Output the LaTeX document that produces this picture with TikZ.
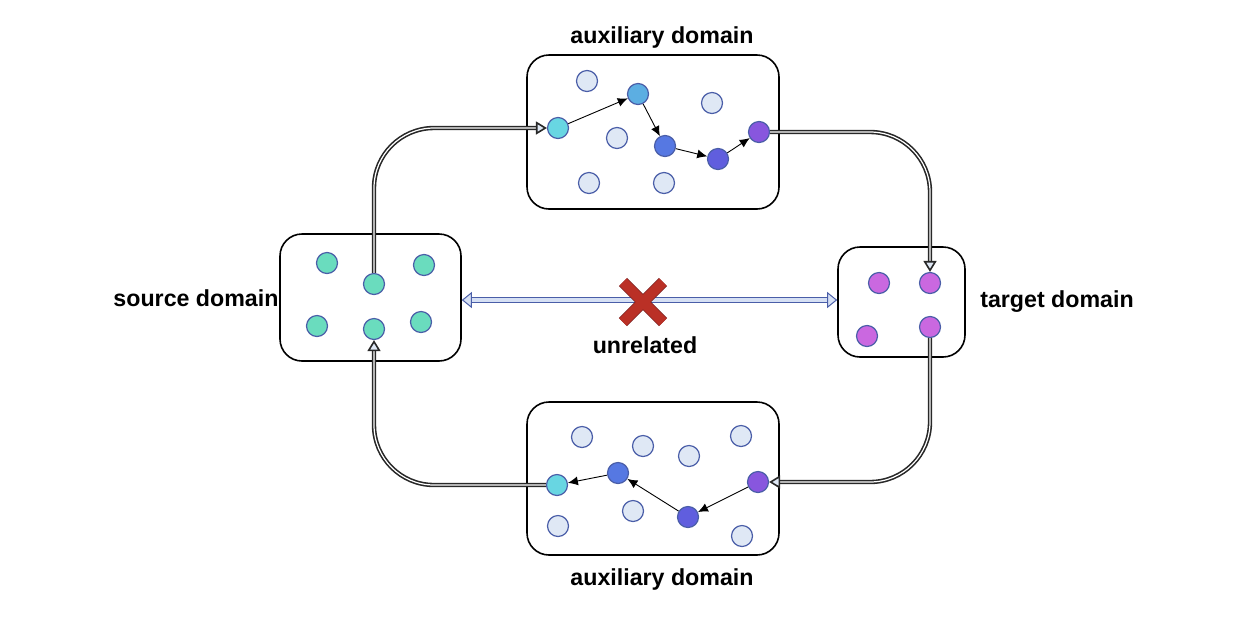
\documentclass[tikz,border=0pt]{standalone}
\usepackage{fontspec}
\setmainfont{Liberation Sans}
\usetikzlibrary{arrows.meta,shapes.misc}
\definecolor{linedark}{RGB}{40,40,40}
\definecolor{ringblue}{RGB}{74,94,168}
\definecolor{paleblue}{RGB}{223,232,245}
\definecolor{cyanpt}{RGB}{104,214,226}
\definecolor{skypt}{RGB}{92,174,226}
\definecolor{royalpt}{RGB}{86,120,226}
\definecolor{indigopt}{RGB}{96,94,222}
\definecolor{violetpt}{RGB}{136,86,222}
\definecolor{tealpt}{RGB}{106,220,190}
\definecolor{orchidpt}{RGB}{202,104,224}
\definecolor{bridgefill}{RGB}{214,224,244}
\definecolor{crossred}{RGB}{186,48,38}
\definecolor{crossdark}{RGB}{120,30,30}
\tikzset{
  domainbox/.style={
    draw=black,
    line width=0.8pt,
    rectangle,
    rounded corners=11pt,
    fill=white
  },
  caption/.style={font=\bfseries\fontsize{11.6}{14}\selectfont, text=black},
  point/.style={
    circle,
    draw=ringblue,
    line width=0.6pt,
    fill=paleblue,
    minimum size=10.5pt,
    inner sep=0pt
  },
  hop/.style={-{Latex[length=5pt,width=4.5pt]}, line width=0.45pt, draw=black},
  link/.style={
    -{Triangle[length=5.5pt,width=6.5pt,fill=paleblue]},
    draw=linedark, line width=0.8pt,
    double=white, double distance=0.6pt,
    rounded corners=30pt
  },
  bridge/.style={
    {Triangle[length=5pt,width=8pt,fill=bridgefill]}-{Triangle[length=5pt,width=8pt,fill=bridgefill]},
    draw=ringblue, line width=0.5pt,
    double=bridgefill, double distance=2.2pt
  }
}
\begin{document}
\begin{tikzpicture}[x=0.5pt,y=-0.5pt]
\useasboundingbox (0,0) rectangle (1236,628);

% Domains
\node[domainbox, minimum width=126pt, minimum height=77pt] (auxtop) at (653,132) {};
\node[domainbox, minimum width=126pt, minimum height=76.5pt] (auxbot) at (653,478.5) {};
\node[domainbox, minimum width=90.5pt, minimum height=63.5pt] (src) at (370.5,297.5) {};
\node[domainbox, minimum width=63.5pt, minimum height=55pt] (tgt) at (901.5,302) {};

% Labels
\node[caption] (auxtoplbl) at (662,37) {auxiliary domain};
\node[caption] (auxbotlbl) at (662,579) {auxiliary domain};
\node[caption] (srclbl) at (196,298) {source domain};
\node[caption] (tgtlbl) at (1057,302) {target domain};
\node[caption] (unrel) at (645,345) {unrelated};

% Source samples
\node[point, fill=tealpt] (s1) at (327,263) {};
\node[point, fill=tealpt] (s2) at (424,265) {};
\node[point, fill=tealpt] (s3) at (374,284) {};
\node[point, fill=tealpt] (s4) at (317,326) {};
\node[point, fill=tealpt] (s5) at (374,329) {};
\node[point, fill=tealpt] (s6) at (421,322) {};

% Target samples
\node[point, fill=orchidpt] (t1) at (879,283) {};
\node[point, fill=orchidpt] (t2) at (930,283) {};
\node[point, fill=orchidpt] (t3) at (867,336) {};
\node[point, fill=orchidpt] (t4) at (930,327) {};

% Upper auxiliary samples
\node[point] (u1) at (587,81) {};
\node[point] (u2) at (617,138) {};
\node[point] (u3) at (712,103) {};
\node[point] (u4) at (589,183) {};
\node[point] (u5) at (664,183) {};
\node[point, fill=cyanpt] (a1) at (558,128) {};
\node[point, fill=skypt] (a2) at (638,94) {};
\node[point, fill=royalpt] (a3) at (665,146) {};
\node[point, fill=indigopt] (a4) at (718,159) {};
\node[point, fill=violetpt] (a5) at (759,132) {};

% Lower auxiliary samples
\node[point] (l1) at (582,437) {};
\node[point] (l2) at (643,446) {};
\node[point] (l3) at (689,456) {};
\node[point] (l4) at (741,436) {};
\node[point] (l5) at (633,511) {};
\node[point] (l6) at (558,526) {};
\node[point] (l7) at (742,536) {};
\node[point, fill=cyanpt] (b1) at (557,485) {};
\node[point, fill=royalpt] (b2) at (618,473) {};
\node[point, fill=indigopt] (b3) at (688,517) {};
\node[point, fill=violetpt] (b4) at (758,482) {};

% Paths through the auxiliary domains
\draw[hop] (a1) -- (a2);
\draw[hop] (a2) -- (a3);
\draw[hop] (a3) -- (a4);
\draw[hop] (a4) -- (a5);

\draw[hop] (b4) -- (b3);
\draw[hop] (b3) -- (b2);
\draw[hop] (b2) -- (b1);

% Loop between domains
\draw[link] (s3) |- (a1);
\draw[link] (a5) -| (t2);
\draw[link] (t4) |- (b4);
\draw[link] (b1) -| (s5);

% Direct link, crossed out
\coordinate (mid) at (643,300);
\draw[bridge] (src.east |- mid) -- (tgt.west |- mid);
\node[cross out, draw=crossred, line width=5pt, minimum size=15pt, inner sep=0pt,
  preaction={draw=crossdark, line width=5.8pt}] (nolink) at (643,302) {};

\end{tikzpicture}
\end{document}
